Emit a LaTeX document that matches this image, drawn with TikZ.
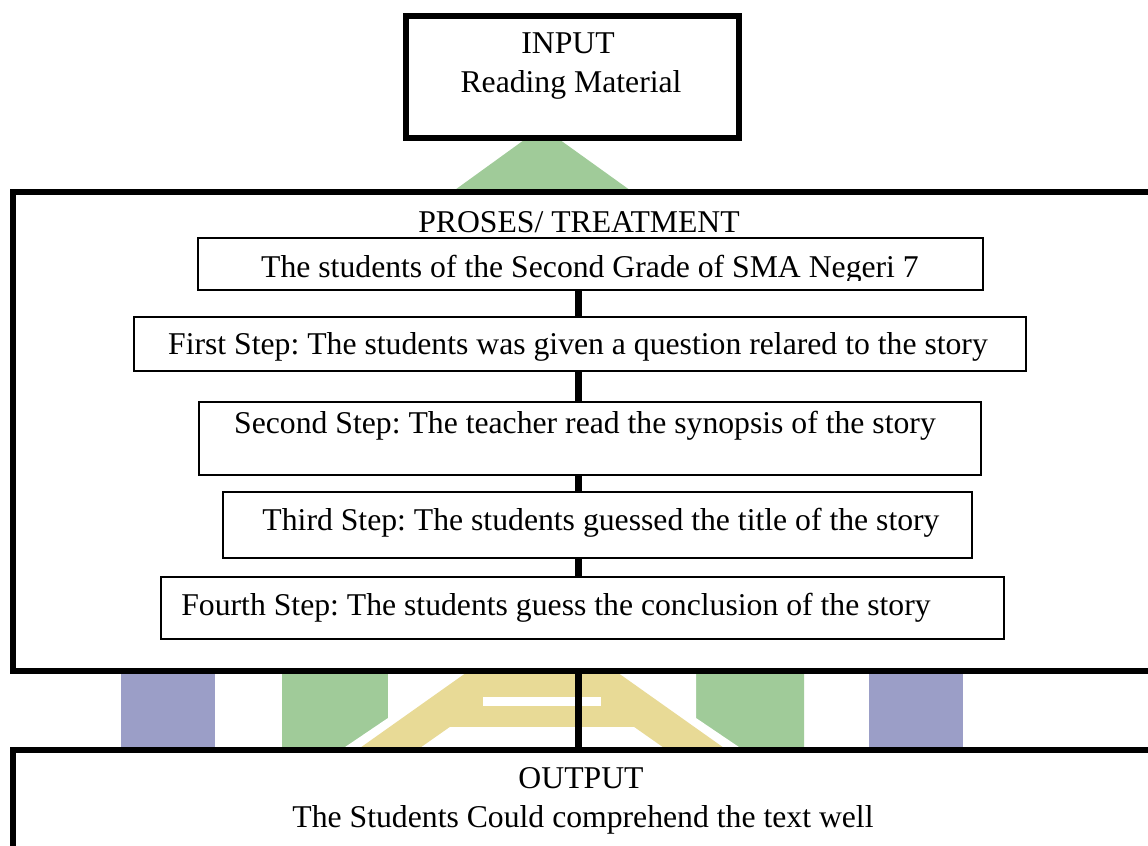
\documentclass[tikz,border=0pt]{standalone}
\usepackage{fontspec}
\setmainfont{Liberation Serif}
\frenchspacing
\definecolor{wmpurple}{RGB}{155,158,199}
\definecolor{wmgreen}{RGB}{160,203,153}
\definecolor{wmyellow}{RGB}{232,218,150}
\begin{document}
\begin{tikzpicture}[x=0.5pt,y=-0.5pt,
  thickbox/.style={draw=black, line width=3pt, fill=white, inner sep=0pt, anchor=north west},
  thinbox/.style={draw=black, line width=1pt, fill=white, inner sep=0pt, anchor=north west},
  conn/.style={line width=3.5pt, draw=black},
  txt/.style={inner sep=0pt, anchor=base, font=\fontsize{15.85pt}{19pt}\selectfont}]
\useasboundingbox (0,0) rectangle (1148,846);
% watermark (background logo)
\fill[wmpurple] (121,560) rectangle (215,860);
\fill[wmpurple] (869,560) rectangle (963,860);
\fill[wmgreen] (542,127) -- (282,315) -- (282,860) -- (804,860) -- (804,315) -- cycle;
\fill[white] (388,450) -- (388,718) -- (320,764) -- (764,764) -- (696,718) -- (696,450) -- (542,340) -- cycle;
\fill[wmyellow] (542,619) -- (343,760) -- (741,760) -- cycle;
\fill[white] (483,697) rectangle (601,706);
\fill[white] (450,727) -- (634,727) -- (681,760) -- (403,760) -- cycle;
% boxes
\node[thickbox, minimum width=166.75pt, minimum height=61.25pt] (input) at (402.5,12.5) {};
\node[thickbox, minimum width=580pt, minimum height=239.5pt] (treat) at (10,189) {};
\node[thinbox, minimum width=392.5pt, minimum height=26pt] (b1) at (197,237) {};
\node[thinbox, minimum width=446pt, minimum height=27pt] (b2) at (133,316) {};
\node[thinbox, minimum width=391pt, minimum height=36.5pt] (b3) at (198,401) {};
\node[thinbox, minimum width=374.5pt, minimum height=33pt] (b4) at (222,491) {};
\node[thinbox, minimum width=421.5pt, minimum height=31pt] (b5) at (160,576) {};
\node[thickbox, minimum width=580pt, minimum height=61.5pt] (output) at (10,747) {};
% connectors
\coordinate (spine) at (578,0);
\draw[conn] (b1.south -| spine) -- (b2.north -| spine);
\draw[conn] (b2.south -| spine) -- (b3.north -| spine);
\draw[conn] (b3.south -| spine) -- (b4.north -| spine);
\draw[conn] (b4.south -| spine) -- (b5.north -| spine);
\draw[conn] (treat.south -| spine) -- (output.north -| spine);
% texts
\node[txt] (tin1) at (568,54) {INPUT};
\node[txt] (tin2) at (571,92) {Reading Material};
\node[txt] (tproc) at (579,232) {PROSES/ TREATMENT};
\begin{scope}
\clip (197,237) rectangle (982,280);
\node[txt] (t1) at (590,277) {The students of the Second Grade of SMA Negeri 7};
\end{scope}
\node[txt] (t2) at (578,354) {First Step: The students was given a question relared to the story};
\node[txt] (t3) at (585,433) {Second Step: The teacher read the synopsis of the story};
\node[txt] (t4) at (601,530) {Third Step: The students guessed the title of the story};
\node[txt] (t5) at (556,615) {Fourth Step: The students guess the conclusion of the story};
\node[txt] (tout1) at (581,788) {OUTPUT};
\node[txt] (tout2) at (583,827) {The Students Could comprehend the text well};
\end{tikzpicture}
\end{document}
